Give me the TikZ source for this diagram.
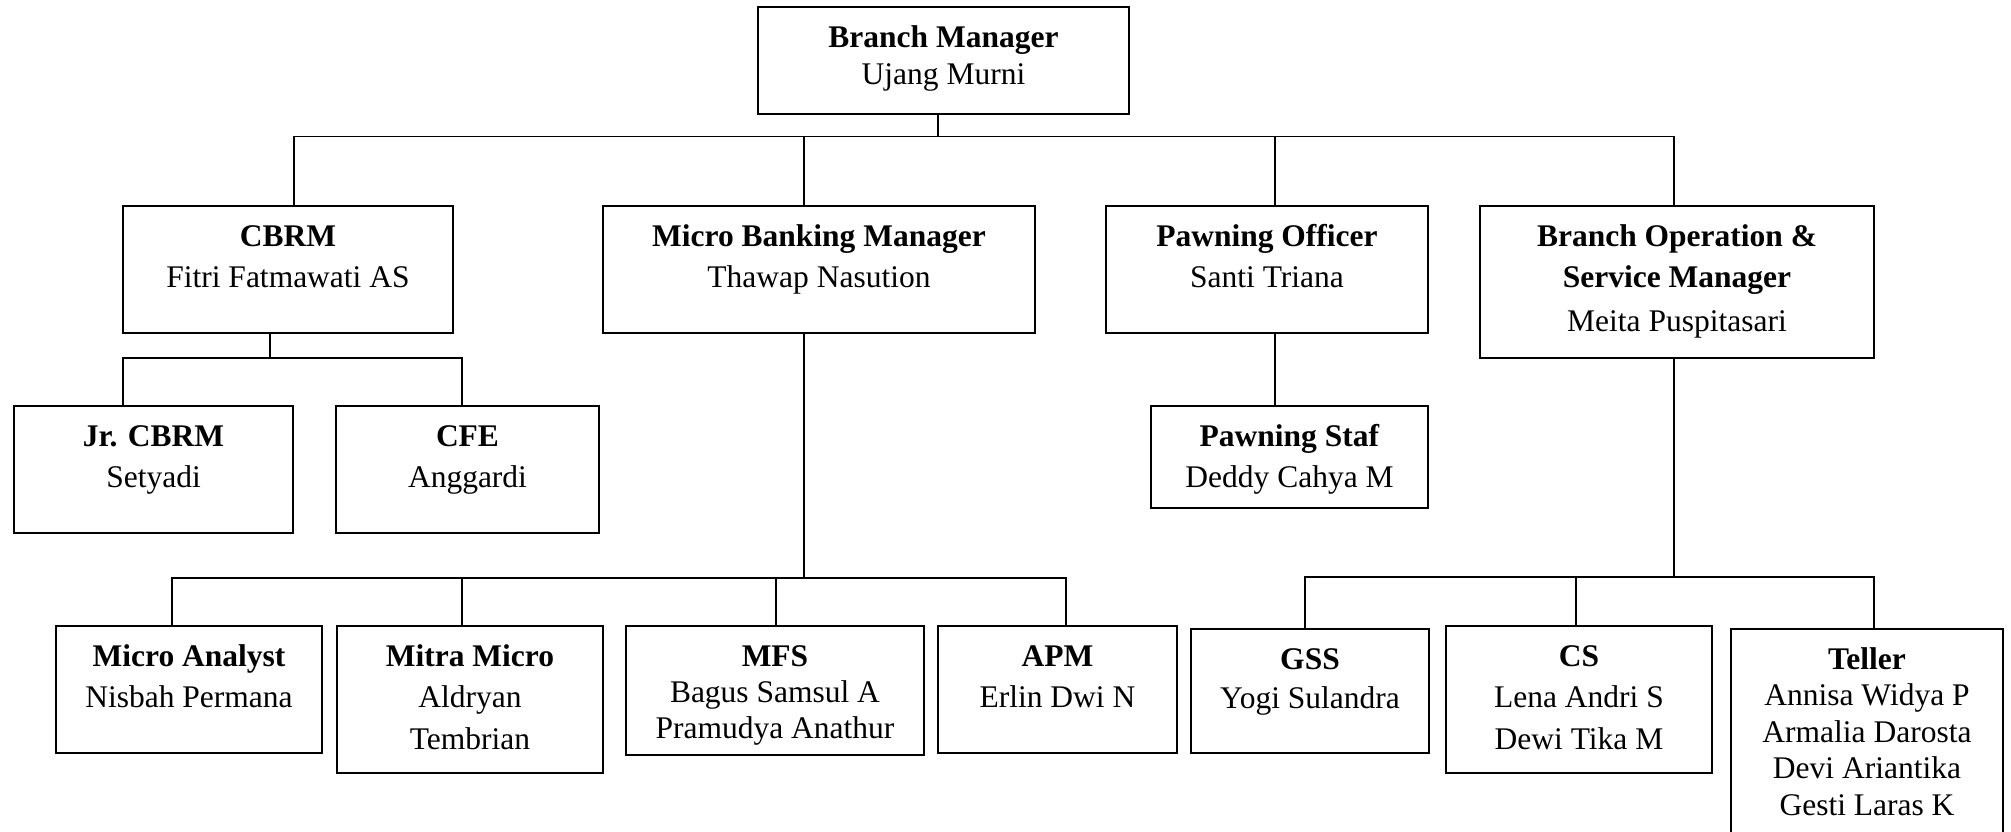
\documentclass[tikz,border=0pt]{standalone}
\usepackage{fontspec}
\setmainfont{Liberation Serif}
\setlength{\parindent}{0pt}
% text of one box: [line skip]{width}{height}{lines}, first baseline 40pt below the top
\newcommand{\orgcell}[4][41pt]{%
  \begin{minipage}[c][#3][t]{#2}\centering\baselineskip=#1\relax
    \rule{0pt}{40pt}#4\end{minipage}}

\begin{document}
\begin{tikzpicture}[x=1pt,y=-1pt,font=\fontsize{31.5}{41}\selectfont]
  \tikzstyle{post}=[draw,line width=2pt,inner sep=0pt,outer sep=0pt,anchor=north west]
  \tikzstyle{link}=[line width=1.6pt]
  \useasboundingbox (0,0) rectangle (2011,831);

  % boxes
  \node[post] (bm)     at (758,7)    {\orgcell[37.5pt]{371pt}{107pt}{\textbf{Branch Manager}\\Ujang Murni}};
  \node[post] (cbrm)   at (123,206)  {\orgcell{330pt}{127pt}{\textbf{CBRM}\\Fitri Fatmawati AS}};
  \node[post] (mbm)    at (603,206)  {\orgcell{432pt}{127pt}{\textbf{Micro Banking Manager}\\Thawap Nasution}};
  \node[post] (po)     at (1106,206) {\orgcell{322pt}{127pt}{\textbf{Pawning Officer}\\Santi Triana}};
  \node[post] (bosm)   at (1480,206) {\orgcell{394pt}{152pt}{\textbf{Branch Operation \&}\\\textbf{Service Manager}\\[3.5pt]Meita Puspitasari}};
  \node[post] (jrcbrm) at (14,406)   {\orgcell{279pt}{127pt}{\textbf{Jr. CBRM}\\Setyadi}};
  \node[post] (cfe)    at (336,406)  {\orgcell{263pt}{127pt}{\textbf{CFE}\\Anggardi}};
  \node[post] (pstaf)  at (1151,406) {\orgcell{277pt}{102pt}{\textbf{Pawning Staf}\\Deddy Cahya M}};
  \node[post] (ma)     at (56,626)   {\orgcell{266pt}{127pt}{\textbf{Micro Analyst}\\Nisbah Permana}};
  \node[post] (mitra)  at (337,626)  {\orgcell[41.5pt]{266pt}{147pt}{\textbf{Mitra Micro}\\Aldryan\\Tembrian}};
  \node[post] (mfs)    at (626,626)  {\orgcell[36.3pt]{298pt}{129pt}{\textbf{MFS}\\Bagus Samsul A\\Pramudya Anathur}};
  \node[post] (apm)    at (938,626)  {\orgcell{239pt}{127pt}{\textbf{APM}\\Erlin Dwi N}};
  \node[post] (gss)    at (1191,629) {\orgcell[39pt]{238pt}{124pt}{\textbf{GSS}\\Yogi Sulandra}};
  \node[post] (cs)     at (1446,626) {\orgcell[41.5pt]{266pt}{147pt}{\textbf{CS}\\Lena Andri S\\Dewi Tika M}};
  \node[post] (teller) at (1731,629) {\orgcell[36.5pt]{272pt}{211pt}{\textbf{Teller}\\Annisa Widya P\\Armalia Darosta\\Devi Ariantika\\Gesti Laras K}};

  % junctions on the buses
  \coordinate (b0) at (938,136.5);
  \coordinate (b1) at (294,136.5);
  \coordinate (b2) at (804,136.5);
  \coordinate (b3) at (1275,136.5);
  \coordinate (b4) at (1674,136.5);
  \coordinate (c0) at (270,358);
  \coordinate (c1) at (123,358);
  \coordinate (c2) at (462,358);
  \coordinate (m0) at (804,578);
  \coordinate (m1) at (172,578);
  \coordinate (m2) at (462,578);
  \coordinate (m3) at (776,578);
  \coordinate (m4) at (1066,578);
  \coordinate (s0) at (1674,577);
  \coordinate (s1) at (1305,577);
  \coordinate (s2) at (1576,577);
  \coordinate (s3) at (1874,577);

  % lines
  \draw[link] (bm.south -| b0) -- (b0);
  \draw[link] (b1 |- cbrm.north) -- (b1) -- (b4) -- (b4 |- bosm.north);
  \draw[link] (b2) -- (b2 |- mbm.north);
  \draw[link] (b3) -- (b3 |- po.north);

  \draw[link] (cbrm.south -| c0) -- (c0);
  \draw[link] (c1 |- jrcbrm.north) -- (c1) -- (c2) -- (c2 |- cfe.north);

  \draw[link] (po.south -| b3) -- (b3 |- pstaf.north);

  \draw[link] (mbm.south -| m0) -- (m0);
  \draw[link] (m1 |- ma.north) -- (m1) -- (m4) -- (m4 |- apm.north);
  \draw[link] (m2) -- (m2 |- mitra.north);
  \draw[link] (m3) -- (m3 |- mfs.north);

  \draw[link] (bosm.south -| s0) -- (s0);
  \draw[link] (s1 |- gss.north) -- (s1) -- (s3) -- (s3 |- teller.north);
  \draw[link] (s2) -- (s2 |- cs.north);
\end{tikzpicture}
\end{document}
